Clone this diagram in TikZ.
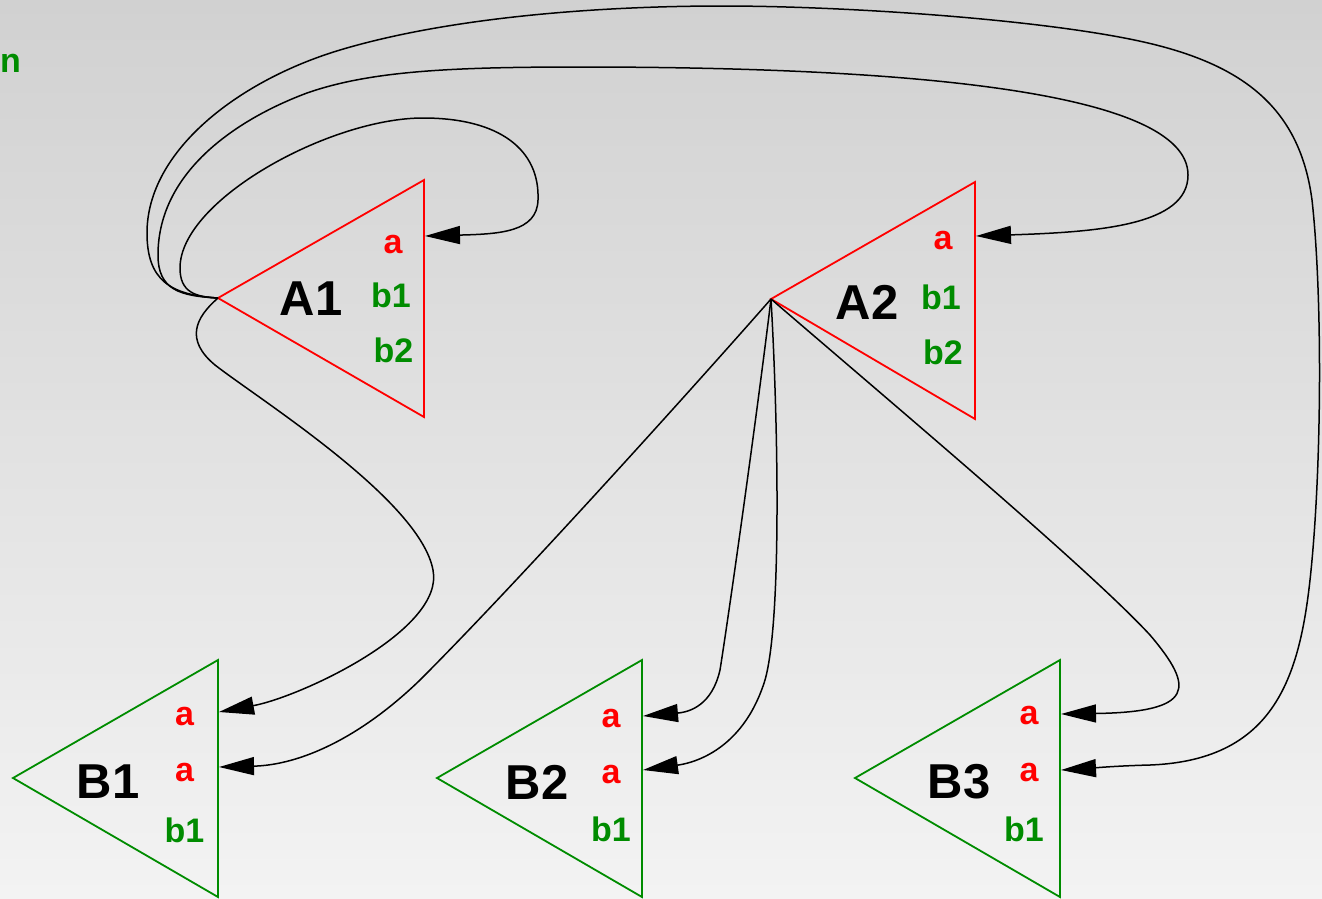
\documentclass[tikz,border=0pt]{standalone}
\usepackage{fontspec}
\setmainfont{Liberation Sans}
\usetikzlibrary{arrows.meta}
\definecolor{grn}{RGB}{0,140,0}
\definecolor{bgtop}{RGB}{209,209,209}
\definecolor{bgbot}{RGB}{243,243,243}
\tikzset{
  edge/.style={line width=1.5pt, -{Triangle[length=35pt,width=18pt]}},
  rtri/.style={draw=red, line width=1.8pt},
  gtri/.style={draw=grn, line width=1.8pt},
  lbl/.style={font=\fontsize{49}{49}\selectfont\bfseries, anchor=base, inner sep=0pt},
  prt/.style={font=\fontsize{34}{34}\selectfont\bfseries, anchor=base, inner sep=0pt},
}
\begin{document}
\begin{tikzpicture}[x=1pt,y=-1pt]
\useasboundingbox (0,0) rectangle (1322,898);
\shade[top color=bgtop, bottom color=bgbot] (0,0) rectangle (1322,898);

% graph label
\node[prt, anchor=base west, text=grn, font=\fontsize{34}{34}\selectfont\bfseries] (title) at (0,72) {n};

% triangle corners and ports
\coordinate (A1o) at (218,298);
\coordinate (A1t) at (424,180);
\coordinate (A1b) at (424,417);
\coordinate (A1a) at (425,236);
\coordinate (A2o) at (771,299);
\coordinate (A2t) at (975,182);
\coordinate (A2b) at (975,419);
\coordinate (A2a) at (976,236);
\coordinate (B1o) at (13,778);
\coordinate (B1t) at (218,660);
\coordinate (B1b) at (218,897);
\coordinate (B1a) at (219,712);
\coordinate (B1c) at (219,767);
\coordinate (B2o) at (437,778);
\coordinate (B2t) at (642,660);
\coordinate (B2b) at (642,897);
\coordinate (B2a) at (643,716);
\coordinate (B2c) at (643,770);
\coordinate (B3o) at (855,778);
\coordinate (B3t) at (1060,660);
\coordinate (B3b) at (1060,897);
\coordinate (B3a) at (1061,714);
\coordinate (B3c) at (1061,770);

% triangles
\draw[rtri] (A1o) -- (A1t) -- (A1b) -- cycle;
\draw[rtri] (A2o) -- (A2t) -- (A2b) -- cycle;
\draw[gtri] (B1o) -- (B1t) -- (B1b) -- cycle;
\draw[gtri] (B2o) -- (B2t) -- (B2b) -- cycle;
\draw[gtri] (B3o) -- (B3t) -- (B3b) -- cycle;

% labels
\node[lbl] (lA1) at (311,315) {A1};
\node[prt, text=red] (pA1a) at (393,253) {a};
\node[prt, text=grn] (pA1b1) at (391,307) {b1};
\node[prt, text=grn] (pA1b2) at (393.5,362) {b2};

\node[lbl] (lA2) at (867,319) {A2};
\node[prt, text=red] (pA2a) at (943,249) {a};
\node[prt, text=grn] (pA2b1) at (941,309) {b1};
\node[prt, text=grn] (pA2b2) at (943,364) {b2};

\node[lbl] (lB1) at (108,798) {B1};
\node[prt, text=red] (pB1a) at (184.5,725) {a};
\node[prt, text=red] (pB1c) at (184.5,781) {a};
\node[prt, text=grn] (pB1b1) at (184.5,842) {b1};

\node[lbl] (lB2) at (537,799) {B2};
\node[prt, text=red] (pB2a) at (611,727) {a};
\node[prt, text=red] (pB2c) at (611,783) {a};
\node[prt, text=grn] (pB2b1) at (611,841) {b1};

\node[lbl] (lB3) at (959,798) {B3};
\node[prt, text=red] (pB3a) at (1029,724) {a};
\node[prt, text=red] (pB3c) at (1029,781) {a};
\node[prt, text=grn] (pB3b1) at (1024,841) {b1};

% edges from A1
\draw[edge] (A1o) .. controls (195,297) and (180,292) .. (180,268)
  .. controls (180,200) and (330,118) .. (423,118)
  .. controls (500,118) and (540,150) .. (538,200)
  .. controls (537,232) and (500,234) .. (A1a);
\draw[edge] (A1o) .. controls (180,296) and (158,290) .. (158,255)
  .. controls (158,170) and (240,118) .. (307,93)
  .. controls (370,71) and (450,67) .. (580,67)
  .. controls (900,67) and (1188,90) .. (1188,175)
  .. controls (1188,225) and (1100,232) .. (A2a);
\draw[edge] (A1o) .. controls (170,295) and (147,280) .. (147,233)
  .. controls (147,150) and (240,80) .. (340,50)
  .. controls (450,17) and (600,6) .. (722,6)
  .. controls (850,6) and (1050,20) .. (1148,43)
  .. controls (1246,66) and (1300,110) .. (1312,200)
  .. controls (1322,290) and (1322,450) .. (1312,560)
  .. controls (1302,670) and (1280,760) .. (1150,765)
  .. controls (1110,766) and (1080,769) .. (B3c);
\draw[edge] (A1o) .. controls (195,318) and (185,340) .. (215,365)
  .. controls (260,400) and (420,500) .. (433,570)
  .. controls (445,630) and (300,697) .. (B1a);

% edges from A2
\draw[edge] (A2o) .. controls (700,380) and (520,580) .. (420,680)
  .. controls (360,738) and (300,765) .. (B1c);
\draw[edge] (A2o) .. controls (755,430) and (728,620) .. (720,670)
  .. controls (712,705) and (690,712) .. (B2a);
\draw[edge] (A2o) .. controls (778,420) and (782,620) .. (765,680)
  .. controls (745,745) and (700,762) .. (B2c);
\draw[edge] (A2o) .. controls (900,410) and (1090,570) .. (1150,635)
  .. controls (1195,688) and (1195,712) .. (B3a);
\end{tikzpicture}
\end{document}
